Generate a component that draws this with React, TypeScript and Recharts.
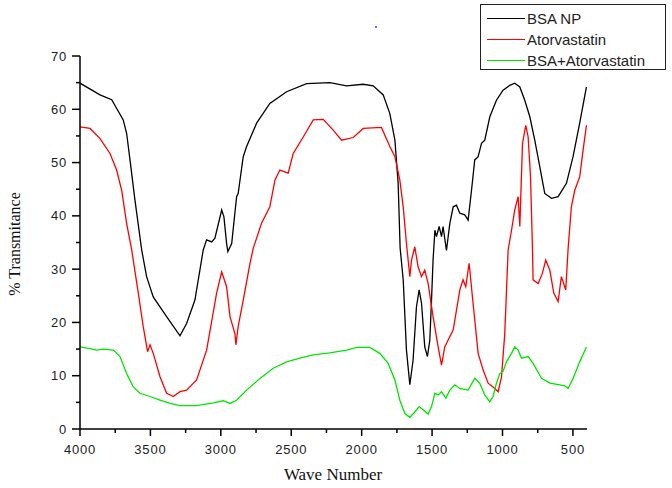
import React from 'react';
import { LineChart, Line, XAxis, YAxis } from 'recharts';

// wave numbers (cm-1) and % transmittance
const bsaWave = [4000, 3858, 3775, 3693, 3669, 3645, 3610, 3562, 3527, 3480, 3385, 3290, 3243, 3184, 3125, 3101, 3065, 3042, 2994, 2978, 2959, 2950, 2923, 2888, 2877, 2841, 2817, 2746, 2652, 2533, 2391, 2226, 2107, 1989, 1918, 1847, 1800, 1764, 1741, 1727, 1705, 1682, 1658, 1635, 1611, 1592, 1575, 1552, 1533, 1516, 1504, 1493, 1480, 1469, 1450, 1433, 1422, 1398, 1374, 1350, 1327, 1303, 1268, 1244, 1220, 1197, 1173, 1149, 1126, 1090, 1043, 996, 948, 913, 877, 842, 806, 771, 735, 700, 652, 605, 546, 499, 452, 404];
const bsaT = [64.9, 62.7, 61.8, 58, 55.5, 50.5, 43, 33.6, 28.6, 24.8, 21.1, 17.5, 19.8, 24.2, 33.6, 35.5, 35.1, 35.8, 41.1, 39.8, 34.8, 33.3, 34.8, 43.6, 44.2, 51.1, 53, 57.4, 61.1, 63.3, 64.8, 65, 64.4, 64.7, 64.4, 62.7, 59.2, 54.2, 46.1, 34, 28, 14.8, 8.3, 12.9, 22.9, 26.1, 23.6, 15.4, 13.6, 16.7, 24.2, 31.7, 37.3, 36.1, 38, 36.1, 38, 33.5, 38.6, 41.7, 42, 40.5, 40.2, 39.2, 44.8, 50.5, 51.1, 53.6, 54.2, 58.6, 61.7, 63.6, 64.5, 64.9, 64.2, 61.7, 58.6, 54.2, 49.2, 44.2, 43.3, 43.6, 46.1, 51.1, 57.4, 64.2];

const atorWave = [4000, 3929, 3858, 3787, 3740, 3704, 3669, 3633, 3622, 3586, 3551, 3520, 3503, 3480, 3432, 3385, 3338, 3290, 3243, 3172, 3101, 3030, 2994, 2959, 2935, 2900, 2893, 2877, 2841, 2793, 2770, 2711, 2652, 2616, 2581, 2522, 2486, 2415, 2344, 2273, 2202, 2143, 2060, 1989, 1860, 1800, 1764, 1729, 1705, 1682, 1658, 1646, 1623, 1599, 1575, 1552, 1528, 1493, 1457, 1433, 1410, 1386, 1350, 1303, 1280, 1261, 1237, 1209, 1173, 1138, 1102, 1067, 1031, 1007, 984, 960, 936, 913, 889, 877, 858, 835, 818, 801, 787, 783, 747, 717, 693, 664, 636, 605, 582, 551, 534, 511, 487, 452, 428, 404];
const atorT = [56.7, 56.4, 54.5, 51.7, 48.6, 44.8, 38.6, 33.6, 31.7, 25.5, 19.2, 14.5, 15.8, 14.2, 9.8, 6.7, 6.1, 7, 7.3, 9.2, 14.8, 25.5, 29.5, 26.7, 21.1, 17.9, 15.8, 19.2, 24.2, 31.1, 33.9, 38.6, 41.7, 46.7, 48.6, 48, 51.7, 54.8, 58, 58.1, 56.1, 54.2, 54.7, 56.4, 56.6, 53, 51.1, 46.7, 41.7, 34.8, 28.6, 31.7, 34.2, 30.4, 28.6, 29.8, 27.3, 21.1, 15.4, 12, 15.4, 16.7, 18.6, 26.1, 28, 26.7, 31.1, 23.6, 14.2, 11.1, 8.6, 7.9, 7, 9.8, 17.9, 33.6, 37.3, 41.1, 43.6, 38, 53.6, 57, 54.8, 47.3, 33.6, 28, 27.3, 29.2, 31.7, 29.8, 25.5, 23.9, 28.6, 26.1, 33.9, 41.7, 44.8, 47.3, 52.3, 57];

const mixWave = [4000, 3929, 3882, 3834, 3763, 3716, 3669, 3622, 3574, 3503, 3432, 3361, 3290, 3172, 3054, 2983, 2935, 2888, 2817, 2722, 2628, 2533, 2439, 2344, 2226, 2107, 2036, 1942, 1871, 1812, 1764, 1729, 1693, 1658, 1623, 1592, 1564, 1528, 1504, 1480, 1457, 1433, 1402, 1374, 1339, 1303, 1244, 1197, 1162, 1126, 1090, 1067, 1043, 1019, 996, 972, 936, 913, 889, 865, 818, 783, 723, 664, 594, 558, 534, 499, 452, 404];
const mixT = [15.4, 15.1, 14.8, 15, 14.8, 13.6, 10.4, 7.9, 6.7, 6.1, 5.4, 4.8, 4.4, 4.4, 4.9, 5.3, 4.8, 5.4, 7.3, 9.5, 11.4, 12.6, 13.3, 13.9, 14.3, 14.8, 15.3, 15.3, 14.2, 12.3, 9.2, 5.4, 2.9, 2.2, 3.2, 4.2, 3.6, 2.8, 4.2, 6.7, 6.4, 7, 5.8, 7.3, 8.3, 7.6, 7.3, 9.5, 8.6, 6.4, 5.1, 6.1, 8.6, 10.4, 10.8, 12.6, 14.2, 15.4, 14.8, 13.3, 13.6, 12.3, 9.5, 8.6, 8.3, 8.1, 7.6, 9.5, 12.6, 15.4];

const xTicks = [4000, 3750, 3500, 3250, 3000, 2750, 2500, 2250, 2000, 1750, 1500, 1250, 1000, 750, 500];
const yTicks = [0, 5, 10, 15, 20, 25, 30, 35, 40, 45, 50, 55, 60, 65, 70];

const SERIES = [
  { name: 'BSA NP', color: '#000000', wave: bsaWave, t: bsaT },
  { name: 'Atorvastatin', color: '#ff0000', wave: atorWave, t: atorT },
  { name: 'BSA+Atorvastatin', color: '#00e600', wave: mixWave, t: mixT },
];

const toRows = (wave: number[], t: number[]) => wave.map((w, i) => ({ w, t: t[i] }));

const sans = '"Liberation Sans", Arial, sans-serif';
const serif = '"Liberation Serif", "Times New Roman", serif';

// bottom ticks: long for labelled ones, short in between
const XTick = (props: any) => {
  const { x, y, payload } = props;
  const major = payload.value % 500 === 0;
  return (
    <g>
      <line x1={x} x2={x} y1={y} y2={y + (major ? 7 : 4)} stroke="#000" strokeWidth={1.5} />
      {major && (
        <text x={x} y={y + 25} textAnchor="middle" fontSize={13} fontFamily={sans} fill="#222" letterSpacing={0.8}>
          {payload.value}
        </text>
      )}
    </g>
  );
};

const YTick = (props: any) => {
  const { x, y, payload } = props;
  const major = payload.value % 10 === 0;
  return (
    <g>
      <line x1={x - (major ? 8 : 4)} x2={x} y1={y} y2={y} stroke="#000" strokeWidth={1.5} />
      {major && (
        <text x={x - 13} y={y + 4.5} textAnchor="end" fontSize={13} fontFamily={sans} fill="#222" letterSpacing={0.8}>
          {payload.value}
        </text>
      )}
    </g>
  );
};

export default function App() {
  return (
    <div style={{ position: 'absolute', left: 0, top: 0, width: 672, height: 488, background: '#fff' }}>
      <LineChart width={672} height={488} margin={{ top: 56, right: 85, bottom: 29, left: 30 }}>
        <XAxis
          type="number"
          dataKey="w"
          domain={[400, 4000]}
          reversed
          ticks={xTicks}
          interval={0}
          height={30}
          tickSize={0}
          tickMargin={0}
          tickLine={false}
          tick={<XTick />}
          axisLine={{ stroke: '#000', strokeWidth: 1.5 }}
          allowDataOverflow
        />
        <YAxis
          type="number"
          domain={[0, 70]}
          ticks={yTicks}
          interval={0}
          width={50}
          tickSize={0}
          tickMargin={0}
          tickLine={false}
          tick={<YTick />}
          axisLine={{ stroke: '#000', strokeWidth: 1.5 }}
        />
        {SERIES.map((s) => (
          <Line
            key={s.name}
            name={s.name}
            data={toRows(s.wave, s.t)}
            dataKey="t"
            type="linear"
            stroke={s.color}
            strokeWidth={1.3}
            dot={false}
            isAnimationActive={false}
          />
        ))}
      </LineChart>

      {/* axis titles */}
      <div
        style={{
          position: 'absolute', left: 15 - 100, top: 244 - 10, width: 200, height: 20, lineHeight: '20px',
          textAlign: 'center', transform: 'rotate(-90deg)', fontFamily: serif, fontSize: 16, color: '#111',
        }}
      >
        % Transmitance
      </div>
      <div
        style={{
          position: 'absolute', left: 233, top: 465, width: 200, height: 20, lineHeight: '20px',
          textAlign: 'center', fontFamily: serif, fontSize: 17, color: '#111',
        }}
      >
        Wave Number
      </div>

      {/* legend box */}
      <div
        style={{
          position: 'absolute', left: 480, top: 4, width: 184, height: 64, border: '1px solid #222',
          fontFamily: sans, fontSize: 15, color: '#222', boxSizing: 'content-box',
        }}
      >
        {SERIES.map((s, i) => (
          <div key={s.name} style={{ position: 'absolute', left: 6, top: 3 + i * 21, height: 20, display: 'flex', alignItems: 'center' }}>
            <span style={{ display: 'inline-block', width: 38, height: 0, borderTop: `1.5px solid ${s.color}`, marginRight: 2 }} />
            <span style={{ whiteSpace: 'nowrap' }}>{s.name}</span>
          </div>
        ))}
      </div>

      {/* stray dot in the original figure */}
      <div style={{ position: 'absolute', left: 375, top: 26, width: 2, height: 2, background: '#7070ff' }} />
    </div>
  );
}
